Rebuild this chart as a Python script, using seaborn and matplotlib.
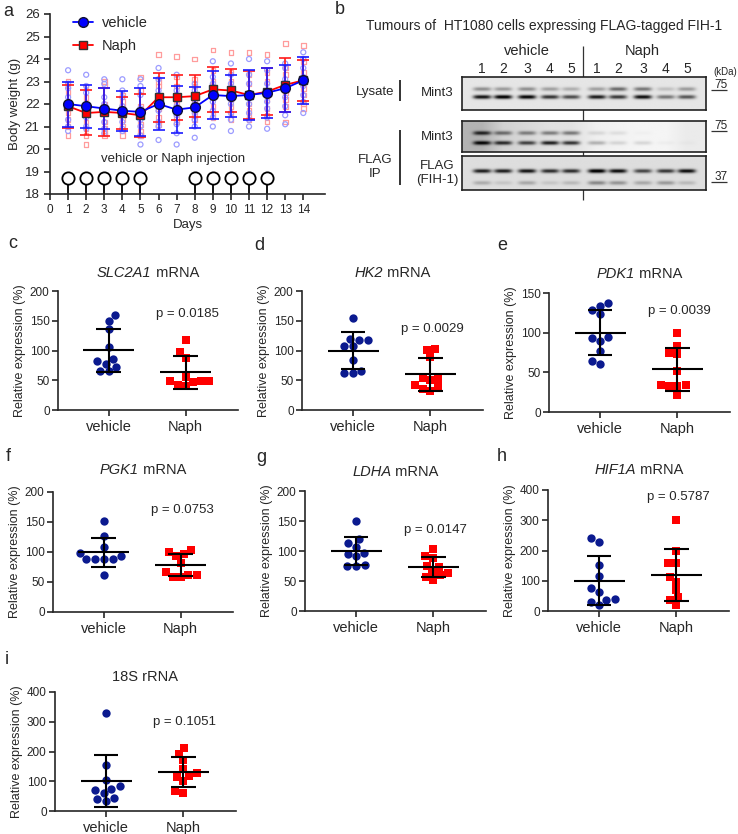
import numpy as np
import pandas as pd
import seaborn as sns
import matplotlib.pyplot as plt

sns.set_style('ticks')
plt.rcParams['font.family'] = ['Liberation Sans', 'DejaVu Sans']
plt.rcParams['axes.linewidth'] = 1.2

# ---- panel a: body weight ----
days = list(range(1, 15))
veh_mean = [22.0, 21.9, 21.8, 21.7, 21.65, 22.0, 21.75, 21.85, 22.4, 22.35, 22.4, 22.5, 22.7, 23.05]
veh_sd = [1.0, 0.95, 0.9, 0.9, 1.05, 1.15, 1.05, 0.9, 1.05, 0.95, 1.1, 1.1, 1.05, 1.05]
naph_mean = [21.9, 21.6, 21.65, 21.6, 21.5, 22.3, 22.3, 22.35, 22.65, 22.6, 22.4, 22.55, 22.85, 23.05]
naph_sd = [0.95, 1.0, 1.05, 0.7, 0.95, 1.1, 1.0, 0.95, 1.0, 0.95, 1.05, 1.05, 1.2, 0.9]
veh_pts = [
    [23.5, 22.9, 22.7, 22.3, 21.8, 21.3, 21.0, 20.8],
    [23.3, 22.8, 22.5, 22.0, 21.7, 21.4, 21.0, 20.9],
    [23.1, 22.9, 22.3, 22.0, 21.6, 21.2, 20.9, 20.7],
    [23.1, 22.6, 22.3, 21.9, 21.5, 21.2, 20.9, 20.8],
    [23.1, 22.8, 22.4, 21.8, 21.3, 21.0, 20.6, 20.2],
    [23.6, 23.1, 22.6, 22.1, 21.7, 21.2, 21.0, 20.4],
    [23.3, 22.6, 22.3, 21.9, 21.5, 21.1, 20.7, 20.2],
    [22.9, 22.6, 22.3, 22.0, 21.6, 21.3, 21.0, 20.5],
    [23.9, 23.2, 22.9, 22.5, 22.1, 21.7, 21.4, 21.0],
    [23.8, 23.3, 22.9, 22.5, 22.0, 21.6, 21.3, 20.8],
    [24.0, 23.3, 22.9, 22.4, 22.0, 21.6, 21.3, 21.0],
    [23.9, 23.5, 22.9, 22.6, 22.1, 21.8, 21.4, 20.9],
    [23.8, 23.6, 23.1, 22.7, 22.3, 21.9, 21.5, 21.1],
    [24.3, 24.0, 23.6, 23.2, 22.8, 22.4, 22.1, 21.6],
]
naph_pts = [
    [23.0, 22.8, 22.5, 22.0, 21.6, 21.3, 21.0, 20.6],
    [22.8, 22.3, 21.9, 21.6, 21.2, 20.9, 20.6, 20.2],
    [23.0, 22.8, 22.0, 21.6, 21.2, 20.9, 20.7, 20.6],
    [22.4, 22.1, 21.9, 21.6, 21.3, 21.0, 20.8, 20.6],
    [23.2, 22.6, 21.9, 21.5, 21.1, 20.8, 20.6, 20.6],
    [24.2, 23.0, 22.8, 22.4, 22.1, 21.8, 21.4, 21.1],
    [24.1, 23.2, 22.8, 22.4, 22.0, 21.7, 21.4, 21.2],
    [24.0, 23.1, 22.8, 22.4, 22.1, 21.8, 21.5, 21.3],
    [24.4, 23.5, 23.0, 22.6, 22.3, 21.9, 21.6, 21.4],
    [24.3, 23.4, 23.0, 22.6, 22.2, 21.9, 21.6, 21.3],
    [24.3, 23.3, 22.9, 22.4, 22.0, 21.7, 21.5, 21.3],
    [24.2, 23.4, 23.0, 22.6, 22.2, 21.8, 21.5, 21.2],
    [24.7, 23.6, 23.3, 22.9, 22.5, 22.2, 21.9, 21.2],
    [24.6, 23.9, 23.4, 23.1, 22.7, 22.4, 22.0, 21.8],
]
inj_days = [1, 2, 3, 4, 5, 8, 9, 10, 11, 12]

# ---- panel b: western blot band intensities (darkness 0-1) ----
lane_labels = ['1', '2', '3', '4', '5', '1', '2', '3', '4', '5']
lys_upper = [0.35, 0.30, 0.35, 0.28, 0.22, 0.28, 0.50, 0.45, 0.15, 0.30]
lys_lower = [0.85, 0.95, 0.92, 0.72, 0.62, 0.82, 0.70, 0.88, 0.45, 0.58]
ip_upper = [0.60, 0.42, 0.38, 0.40, 0.42, 0.10, 0.08, 0.02, 0.0, 0.0]
ip_lower = [0.72, 0.68, 0.62, 0.78, 0.70, 0.25, 0.12, 0.12, 0.03, 0.02]
ip_bg = [0.30, 0.18, 0.15, 0.12, 0.12, 0.06, 0.05, 0.04, 0.04, 0.08]
flag_main = [0.78, 0.78, 0.82, 0.72, 0.72, 0.95, 0.85, 0.62, 0.68, 0.85]
flag_low = [0.20, 0.10, 0.22, 0.10, 0.15, 0.35, 0.30, 0.22, 0.28, 0.15]

# ---- panels c-i: relative expression (%) ----
groups = ['vehicle', 'Naph']
slc2a1_veh = [159, 150, 136, 106, 86, 83, 78, 72, 66, 65]
slc2a1_naph = [117, 97, 88, 56, 49, 48, 48, 47, 42, 40]
hk2_veh = [155, 120, 118, 117, 108, 107, 84, 66, 62, 62]
hk2_naph = [103, 101, 89, 54, 52, 50, 42, 38, 36, 32]
pdk1_veh = [137, 134, 128, 123, 94, 93, 90, 77, 64, 61]
pdk1_naph = [100, 83, 74, 73, 52, 34, 34, 33, 33, 21]
pgk1_veh = [151, 127, 109, 98, 94, 89, 89, 89, 89, 62]
pgk1_naph = [104, 100, 97, 93, 82, 66, 62, 58, 59, 62]
ldha_veh = [150, 120, 113, 107, 97, 95, 92, 76, 75, 75]
ldha_naph = [103, 91, 89, 75, 73, 63, 65, 60, 56, 52]
hif1a_veh = [240, 228, 152, 117, 75, 62, 41, 35, 30, 20]
hif1a_naph = [300, 200, 158, 158, 113, 97, 70, 45, 35, 20]
rrna_veh = [330, 153, 105, 85, 75, 70, 62, 45, 40, 35]
rrna_naph = [212, 193, 172, 140, 128, 118, 115, 100, 68, 62]
p_values = ['0.0185', '0.0029', '0.0039', '0.0753', '0.0147', '0.5787', '0.1051']

W, H = 738, 834
fig = plt.figure(figsize=(W / 100, H / 100), dpi=100)
renderer = fig.canvas.get_renderer()


def px_axes(l, t, r, b):
    return fig.add_axes([l / W, 1 - b / H, (r - l) / W, (b - t) / H])


def ftext(x, y, s, **kw):
    kw.setdefault('ha', 'center')
    kw.setdefault('va', 'center')
    return fig.text(x / W, 1 - y / H, s, **kw)


def gene_title(cx, y, ital, rest, size=10.5):
    # italic gene symbol followed by upright text, centred as a whole
    t1 = ftext(0, y, ital, fontsize=size, style='italic', ha='left')
    t2 = ftext(0, y, rest, fontsize=size, ha='left')
    w1 = t1.get_window_extent(renderer).width
    w2 = t2.get_window_extent(renderer).width
    x0 = cx - (w1 + w2) / 2
    t1.set_x(x0 / W)
    t2.set_x((x0 + w1) / W)


# overlay for the blot annotation lines
ov = fig.add_axes([0, 0, 1, 1])
ov.set_xlim(0, W)
ov.set_ylim(H, 0)
ov.axis('off')
ov.patch.set_visible(False)

# ================= a =================
ax = px_axes(50, 14, 325, 194)
for d, vals in zip(days, naph_pts):
    ax.scatter([d] * len(vals), vals, marker='s', s=11, facecolors='none',
               edgecolors='#ff9c9c', linewidths=0.9, zorder=1)
for d, vals in zip(days, veh_pts):
    ax.scatter([d] * len(vals), vals, marker='o', s=13, facecolors='none',
               edgecolors='#9c9cff', linewidths=0.9, zorder=1)

ax.errorbar(days, naph_mean, yerr=naph_sd, fmt='none', ecolor='#ff1a1a',
            elinewidth=1.2, capsize=4, capthick=1.2, zorder=2)
ax.errorbar(days, veh_mean, yerr=veh_sd, fmt='none', ecolor='#1a1aff',
            elinewidth=1.2, capsize=4, capthick=1.2, zorder=2)
sns.lineplot(x=days, y=naph_mean, color='#ff0000', marker='s', markersize=6.3,
             markeredgecolor='#333333', markeredgewidth=1.0, lw=1.3,
             label='Naph', ax=ax, zorder=3)
sns.lineplot(x=days, y=veh_mean, color='#0000ff', marker='o', markersize=7,
             markeredgecolor='#111133', markeredgewidth=1.0, lw=1.3,
             label='vehicle', ax=ax, zorder=4)

ax.vlines(inj_days, 18, 18.7, color='k', lw=1.3, zorder=2)
ax.scatter(inj_days, [18.7] * len(inj_days), s=78, facecolors='white',
           edgecolors='k', linewidths=1.3, zorder=3)
ax.text(6.8, 19.56, 'vehicle or Naph injection', ha='center', va='center', fontsize=9.5)

h, l = ax.get_legend_handles_labels()
order = [l.index('vehicle'), l.index('Naph')]
ax.legend([h[i] for i in order], [l[i] for i in order], loc='upper left',
          bbox_to_anchor=(0.062, 1.022), borderaxespad=0, frameon=False,
          fontsize=10.5, handlelength=1.4, handletextpad=0.6, labelspacing=0.65)

ax.set_xlim(0, 15.2)
ax.set_ylim(18, 26)
ax.set_xticks(range(0, 15))
ax.set_yticks(range(18, 27))
ax.tick_params(axis='x', labelsize=8.5, length=4, width=1.2)
ax.tick_params(axis='y', labelsize=9.5, length=4, width=1.2)
ax.set_xlabel('Days', fontsize=9.5, labelpad=2)
ax.set_ylabel('Body weight (g)', fontsize=9.5, labelpad=3)
sns.despine(ax=ax)
ftext(8, 11, 'a', fontsize=13)

# ================= b =================
lane_x = np.array([482, 503, 527, 550, 571, 597, 618, 643, 666, 687])
bx0, bx1 = 462, 706


def draw_blot(top, bottom, bands, bg):
    bax = px_axes(bx0, top, bx1, bottom)
    bax.set_zorder(2)
    xs = np.linspace(bx0, bx1, 500)
    ys = np.linspace(top, bottom, 80)
    X, Y = np.meshgrid(xs, ys)
    img = np.interp(X, lane_x, bg)
    for vals, yc in bands:
        for lx, v in zip(lane_x, vals):
            img = img + v * np.exp(-((X - lx) / 9.0) ** 4) * np.exp(-((Y - yc) / 2.0) ** 2)
    bax.imshow(np.clip(img, 0, 1), cmap='gray_r', vmin=0, vmax=1, aspect='auto',
               extent=[bx0, bx1, bottom, top], interpolation='bilinear')
    bax.set_xlim(bx0, bx1)
    bax.set_ylim(bottom, top)
    bax.set_xticks([])
    bax.set_yticks([])
    for s in bax.spines.values():
        s.set_color('#222222')
        s.set_linewidth(1.2)


draw_blot(77, 110, [(lys_upper, 89), (lys_lower, 97)], [0.10] * 10)
draw_blot(121, 152, [(ip_upper, 133), (ip_lower, 143)], ip_bg)
draw_blot(156, 190, [(flag_main, 171), (flag_low, 183)], [0.13] * 10)

ov.vlines(583, 46, 200, color='#333333', lw=0.9)
ov.vlines(400, 80, 101, color='#333333', lw=1.4)
ov.vlines(400, 130, 185, color='#333333', lw=1.4)
for y, lab in [(90, '75'), (131, '75'), (182, '37')]:
    ov.hlines(y, 711, 727, color='#333333', lw=0.9)
    ftext(721, y - 5, lab, fontsize=8.5)

ftext(340, 9, 'b', fontsize=13)
ftext(544, 26, 'Tumours of  HT1080 cells expressing FLAG-tagged FIH-1', fontsize=10)
ftext(527, 51, 'vehicle', fontsize=10.5)
ftext(642, 51, 'Naph', fontsize=10.5)
for lx, lab in zip(lane_x, lane_labels):
    ftext(lx, 69, lab, fontsize=10)
ftext(725, 72, '(kDa)', fontsize=7)
ftext(375, 92, 'Lysate', fontsize=9.5)
ftext(437, 93, 'Mint3', fontsize=9.5)
ftext(437, 137, 'Mint3', fontsize=9.5)
ftext(437, 173, 'FLAG\n(FIH-1)', fontsize=9.5, linespacing=1.3)
ftext(375, 167, 'FLAG\nIP', fontsize=9.5, linespacing=1.2)

# ================= c-i =================
panels = [
    ('c', 'SLC2A1', ' mRNA', slc2a1_veh, slc2a1_naph, p_values[0], 200, 50, 161),
    ('d', 'HK2', ' mRNA', hk2_veh, hk2_naph, p_values[1], 200, 50, 136),
    ('e', 'PDK1', ' mRNA', pdk1_veh, pdk1_naph, p_values[2], 150, 50, 127),
    ('f', 'PGK1', ' mRNA', pgk1_veh, pgk1_naph, p_values[3], 200, 50, 170),
    ('g', 'LDHA', ' mRNA', ldha_veh, ldha_naph, p_values[4], 200, 50, 135),
    ('h', 'HIF1A', ' mRNA', hif1a_veh, hif1a_naph, p_values[5], 400, 100, 377),
    ('i', '', '18S rRNA', rrna_veh, rrna_naph, p_values[6], 400, 100, 299),
]
rects = {
    'c': (58, 291, 238, 410), 'd': (302, 291, 483, 410), 'e': (549, 293, 730, 412),
    'f': (53, 492, 233, 612), 'g': (305, 491, 486, 611), 'h': (548, 490, 729, 611),
    'i': (55, 692, 236, 811),
}
title_y = {'c': 273, 'd': 273, 'e': 274, 'f': 470, 'g': 472, 'h': 470, 'i': 677}
letter_pos = {'c': (8, 244), 'd': (254, 246), 'e': (497, 246), 'f': (6, 456),
              'g': (256, 458), 'h': (497, 456), 'i': (5, 660)}

for letter, ital, rest, veh, naph, p, ymax, ystep, p_y in panels:
    l_, t_, r_, b_ = rects[letter]
    ax = px_axes(l_, t_, r_, b_)
    df = pd.DataFrame({'group': ['vehicle'] * len(veh) + ['Naph'] * len(naph),
                       'value': veh + naph})
    sns.swarmplot(data=df[df.group == 'vehicle'], x='group', y='value', order=groups,
                  color='#0b1a8f', marker='o', size=6, ax=ax, zorder=2)
    sns.swarmplot(data=df[df.group == 'Naph'], x='group', y='value', order=groups,
                  color='#ff0000', marker='s', size=5.6, ax=ax, zorder=2)
    for i, vals in enumerate([veh, naph]):
        m = np.mean(vals)
        sd = np.std(vals, ddof=1)
        ax.hlines(m, i - 0.33, i + 0.33, color='k', lw=1.5, zorder=3)
        ax.vlines(i, m - sd, m + sd, color='k', lw=1.5, zorder=3)
        ax.hlines([m - sd, m + sd], i - 0.16, i + 0.16, color='k', lw=1.5, zorder=3)
    ax.text(1.02, p_y, 'p = ' + p, ha='center', va='center', fontsize=9.5)
    ax.set_xlim(-0.66, 1.68)
    ax.set_ylim(0, ymax)
    ax.set_yticks(np.arange(0, ymax + 1, ystep))
    ax.set_xticks([0, 1])
    ax.set_xticklabels(groups)
    ax.tick_params(axis='x', labelsize=10.5, length=4, width=1.2, pad=3)
    ax.tick_params(axis='y', labelsize=8.5, length=4, width=1.2, pad=2)
    ax.set_xlabel('')
    ax.set_ylabel('Relative expression (%)', fontsize=9, labelpad=3)
    sns.despine(ax=ax)
    gene_title((l_ + r_) / 2, title_y[letter], ital, rest)
    lx, ly = letter_pos[letter]
    ftext(lx, ly, letter, fontsize=13, ha='left')

fig.savefig('out.png', dpi=100)
